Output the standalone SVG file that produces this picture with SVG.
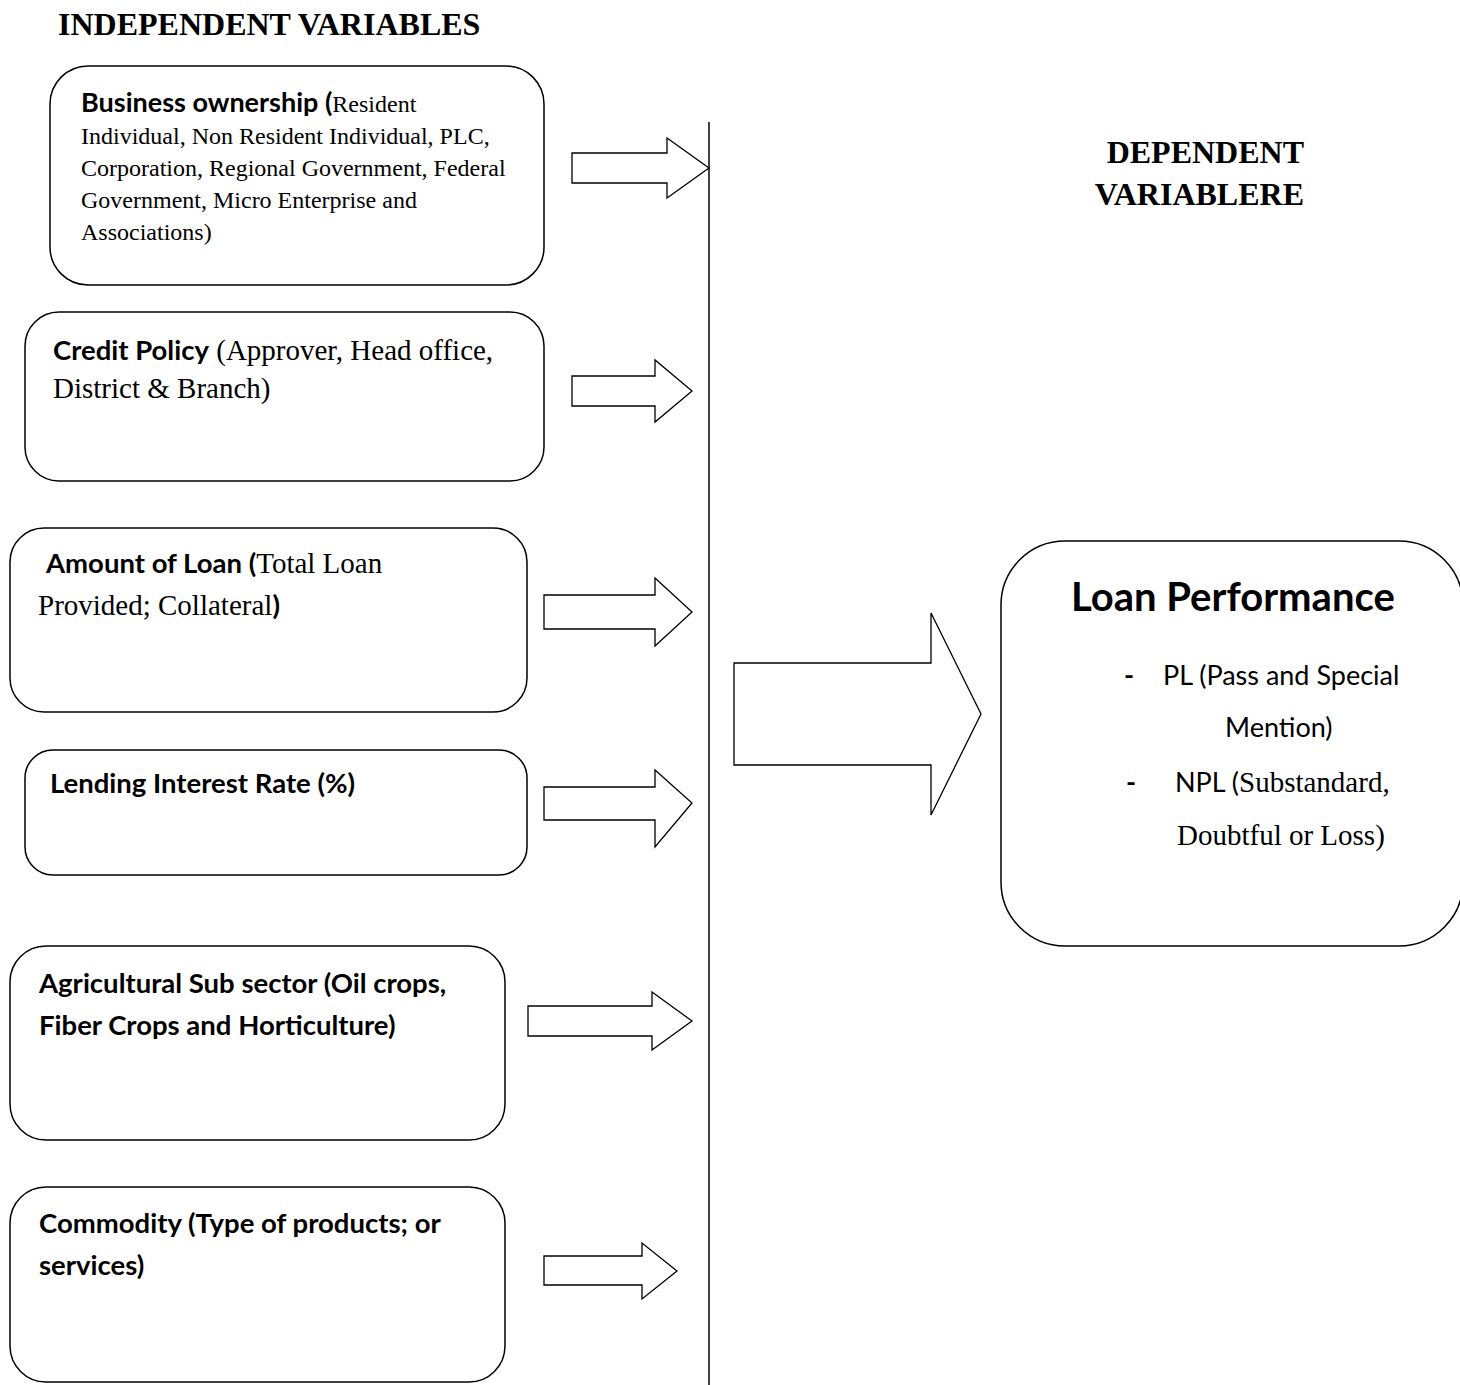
<svg xmlns="http://www.w3.org/2000/svg" width="1460" height="1385" viewBox="0 0 1460 1385">
<style>
.box{fill:#fff;stroke:#000;stroke-width:1.5}
.arr{fill:#fff;stroke:#000;stroke-width:1.3;stroke-linejoin:miter}
.sb{font-family:Lato,"Open Sans",sans-serif;font-weight:bold;fill:#000}
.s{font-family:Lato,"Open Sans",sans-serif;fill:#000}
.t{font-family:"Liberation Serif","Times New Roman",serif;fill:#000}
.tb{font-family:"Liberation Serif","Times New Roman",serif;font-weight:bold;fill:#000}
</style>
<rect width="1460" height="1385" fill="#fff"/>
<g id="titles">
<text class="tb" x="58" y="35" font-size="32">INDEPENDENT VARIABLES</text>
<text class="tb" x="1304" y="163" font-size="32" text-anchor="end">DEPENDENT</text>
<text class="tb" x="1304" y="205" font-size="32" text-anchor="end">VARIABLERE</text>
</g>
<g id="connectors">
<line x1="709" y1="122" x2="709" y2="1385" stroke="#000" stroke-width="1.5"/>
<polygon class="arr" points="572,153 667,153 667,138 709,168 667,198 667,183 572,183"/>
<polygon class="arr" points="572,376 655,376 655,360 692,391 655,422 655,406 572,406"/>
<polygon class="arr" points="544,595 655,595 655,578 692,612 655,646 655,629 544,629"/>
<polygon class="arr" points="544,787 655,787 655,770 692,803 655,847 655,820 544,820"/>
<polygon class="arr" points="528,1006 652,1006 652,992 692,1021 652,1050 652,1036 528,1036"/>
<polygon class="arr" points="544,1256 642,1256 642,1243 677,1271 642,1299 642,1285 544,1285"/>
<polygon class="arr" points="734,663 931,663 931,613 981,714 931,815 931,765 734,765"/>
</g>
<g id="business-ownership">
<rect class="box" x="50" y="66" width="494" height="219" rx="38"/>
<text x="81" y="112"><tspan class="sb" font-size="27">Business ownership (</tspan><tspan class="t" font-size="24">Resident</tspan></text>
<text class="t" font-size="24" x="81" y="144">Individual, Non Resident Individual, PLC,</text>
<text class="t" font-size="24" x="81" y="176">Corporation, Regional Government, Federal</text>
<text class="t" font-size="24" x="81" y="208">Government, Micro Enterprise and</text>
<text class="t" font-size="24" x="81" y="240">Associations)</text>
</g>
<g id="credit-policy">
<rect class="box" x="25" y="312" width="519" height="169" rx="34"/>
<text x="53" y="360"><tspan class="sb" font-size="27.5">Credit Policy</tspan><tspan class="t" font-size="29"> (Approver, Head office,</tspan></text>
<text class="t" font-size="29" x="53" y="398">District &amp; Branch)</text>
</g>
<g id="amount-of-loan">
<rect class="box" x="10" y="528" width="517" height="184" rx="34"/>
<text x="46" y="573"><tspan class="sb" font-size="27.5">Amount of Loan (</tspan><tspan class="t" font-size="29">Total Loan</tspan></text>
<text x="38" y="615"><tspan class="t" font-size="29">Provided; Collateral</tspan><tspan class="sb" font-size="27.5">)</tspan></text>
</g>
<g id="lending-interest-rate">
<rect class="box" x="25" y="750" width="502" height="125" rx="28"/>
<text class="sb" font-size="27.5" x="50" y="793">Lending Interest Rate (%)</text>
</g>
<g id="agricultural-sub-sector">
<rect class="box" x="10" y="946" width="495" height="194" rx="36"/>
<text class="sb" font-size="27.5" x="39" y="993">Agricultural Sub sector (Oil crops,</text>
<text class="sb" font-size="27.5" x="39" y="1035">Fiber Crops and Horticulture)</text>
</g>
<g id="commodity">
<rect class="box" x="10" y="1187" width="495" height="195" rx="36"/>
<text class="sb" font-size="27.5" x="39" y="1233">Commodity (Type of products; or</text>
<text class="sb" font-size="27.5" x="39" y="1275">services)</text>
</g>
<g id="loan-performance">
<rect class="box" x="1001" y="541" width="462" height="405" rx="64"/>
<text class="sb" font-size="40" x="1071" y="611">Loan Performance</text>
<text class="sb" font-size="27" x="1124" y="685">-</text>
<text class="s" font-size="27" x="1163" y="685">PL (Pass and Special</text>
<text class="s" font-size="27" x="1225" y="737">Mention)</text>
<text class="sb" font-size="27" x="1126" y="792">-</text>
<text x="1175" y="792"><tspan class="s" font-size="27">NPL (</tspan><tspan class="t" font-size="29">Substandard,</tspan></text>
<text class="t" font-size="29" x="1177" y="845">Doubtful or Loss)</text>
</g>
</svg>
